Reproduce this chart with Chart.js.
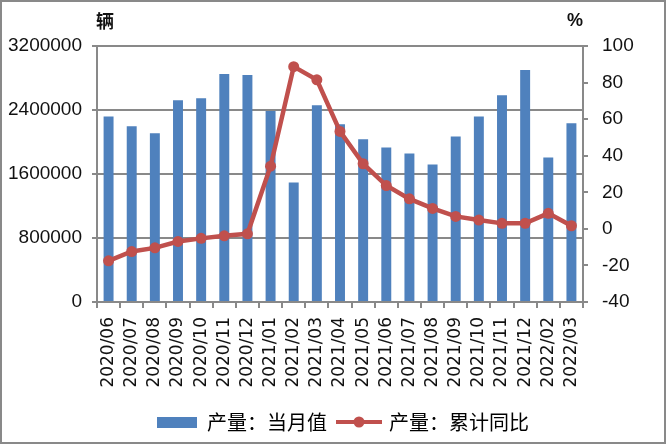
<!DOCTYPE html>
<html>
<head>
<meta charset="utf-8">
<script src="https://cdn.jsdelivr.net/npm/chart.js@4/dist/chart.umd.min.js"></script>
<style>
  html, body { margin: 0; padding: 0; background: #fff; }
  #wrap { position: relative; width: 666px; height: 444px; }
  #wrap canvas { position: absolute; left: 0; top: 0; }
  #frame { position: absolute; left: 0; top: 0; width: 666px; height: 444px;
           box-sizing: border-box; border: 2px solid #898989; pointer-events: none; }
  .unit { position: absolute; font-family: "Noto Sans CJK SC", "Liberation Sans", sans-serif;
          font-size: 18px; font-weight: bold; color: #111; line-height: 1; }
</style>
</head>
<body>
<div id="wrap">
  <canvas id="chart" width="666" height="444"></canvas>
  <div class="unit" style="left:96px; top:11px;">辆</div>
  <div class="unit" style="left:567px; top:11px; font-family: 'Liberation Sans', sans-serif;">%</div>
  <div id="frame"></div>
</div>
<script>
// Categories and series
const months = ['2020/06', '2020/07', '2020/08', '2020/09', '2020/10', '2020/11', '2020/12',
                '2021/01', '2021/02', '2021/03', '2021/04', '2021/05', '2021/06', '2021/07',
                '2021/08', '2021/09', '2021/10', '2021/11', '2021/12', '2022/02', '2022/03'];
const monthlyOutput = [2320000, 2196000, 2108000, 2522000, 2547000, 2849000, 2836000,
                       2388000, 1493000, 2460000, 2221000, 2033000, 1932000, 1857000,
                       1719000, 2070000, 2320000, 2585000, 2899000, 1807000, 2234000];
const cumulativeYoY = [-17.5, -12.4, -10.4, -6.9, -5.2, -3.8, -2.7,
                       34.3, 88.7, 81.5, 53.3, 35.6, 23.7, 16.4,
                       11.2, 6.8, 4.8, 3.0, 3.0, 8.5, 1.7];
const seriesNames = ['产量：当月值', '产量：累计同比'];

const BLUE = '#4f81bd';
const RED = '#c0504d';
const GRID = '#898989';
const TEXT = '#111';

// legend swatches
function barSwatch() {
    const c = document.createElement('canvas');
    c.width = 40; c.height = 11;
    const g = c.getContext('2d');
    g.fillStyle = BLUE;
    g.fillRect(0, 0, 40, 11);
    return c;
}
function lineSwatch() {
    const c = document.createElement('canvas');
    c.width = 46; c.height = 12;
    const g = c.getContext('2d');
    g.strokeStyle = RED;
    g.lineWidth = 4;
    g.beginPath();
    g.moveTo(0, 6); g.lineTo(46, 6);
    g.stroke();
    g.fillStyle = RED;
    g.beginPath();
    g.arc(23, 6, 5.5, 0, Math.PI * 2);
    g.fill();
    return c;
}
const swatches = [barSwatch(), lineSwatch()];

// the legend sits a little right of centre in the original
const nudgeLegend = {
    id: 'nudgeLegend',
    afterLayout(chart) {
        if (chart.legend) chart.legend.left += 20;
    }
};

const ctx = document.getElementById('chart').getContext('2d');
new Chart(ctx, {
    data: {
        labels: months,
        datasets: [{
            type: 'bar',
            label: seriesNames[0],
            data: monthlyOutput,
            backgroundColor: BLUE,
            yAxisID: 'y',
            barPercentage: 0.43,
            categoryPercentage: 1,
            order: 2
        }, {
            type: 'line',
            label: seriesNames[1],
            data: cumulativeYoY,
            borderColor: RED,
            backgroundColor: RED,
            borderWidth: 4.5,
            pointRadius: 5.5,
            pointBackgroundColor: RED,
            pointBorderWidth: 0,
            tension: 0,
            yAxisID: 'y1',
            order: 1
        }]
    },
    plugins: [nudgeLegend],
    options: {
        responsive: false,
        animation: false,
        layout: { padding: { top: 46, left: 0, right: 0, bottom: 2 } },
        plugins: {
            tooltip: { enabled: false },
            legend: {
                position: 'bottom',
                labels: {
                    usePointStyle: true,
                    pointStyleWidth: 40,
                    padding: 12,
                    color: TEXT,
                    font: { family: '"Noto Sans CJK SC", sans-serif', size: 20 },
                    generateLabels: (chart) => chart.data.datasets.map((ds, i) => ({
                        text: ds.label,
                        pointStyle: swatches[i],
                        fillStyle: ds.backgroundColor,
                        strokeStyle: ds.borderColor || ds.backgroundColor,
                        lineWidth: 0,
                        datasetIndex: i,
                        hidden: false
                    }))
                }
            }
        },
        scales: {
            x: {
                offset: true,
                grid: { offset: true, drawOnChartArea: false, color: GRID, lineWidth: 2, tickLength: 6 },
                border: { color: GRID, width: 2 },
                ticks: {
                    autoSkip: false, minRotation: 90, maxRotation: 90, padding: 9,
                    color: TEXT,
                    font: { family: '"DejaVu Sans", sans-serif', size: 17 }
                },
                afterFit: (scale) => { scale.height = 98; }
            },
            y: {
                position: 'left',
                min: 0, max: 3200000,
                ticks: {
                    stepSize: 800000, padding: 10, color: TEXT,
                    font: { family: '"Liberation Sans", sans-serif', size: 19 },
                    callback: (v) => String(v)
                },
                grid: { color: GRID, lineWidth: 2, tickLength: 5 },
                border: { color: GRID, width: 2 },
                afterFit: (scale) => { scale.width = 97; }
            },
            y1: {
                position: 'right',
                min: -40, max: 100,
                ticks: {
                    stepSize: 20, padding: 14, color: TEXT,
                    font: { family: '"Liberation Sans", sans-serif', size: 19 }
                },
                grid: { drawOnChartArea: false, color: GRID, lineWidth: 2, tickLength: 5 },
                border: { color: GRID, width: 2 },
                afterFit: (scale) => { scale.width = 83; }
            }
        }
    }
});
</script>
</body>
</html>
